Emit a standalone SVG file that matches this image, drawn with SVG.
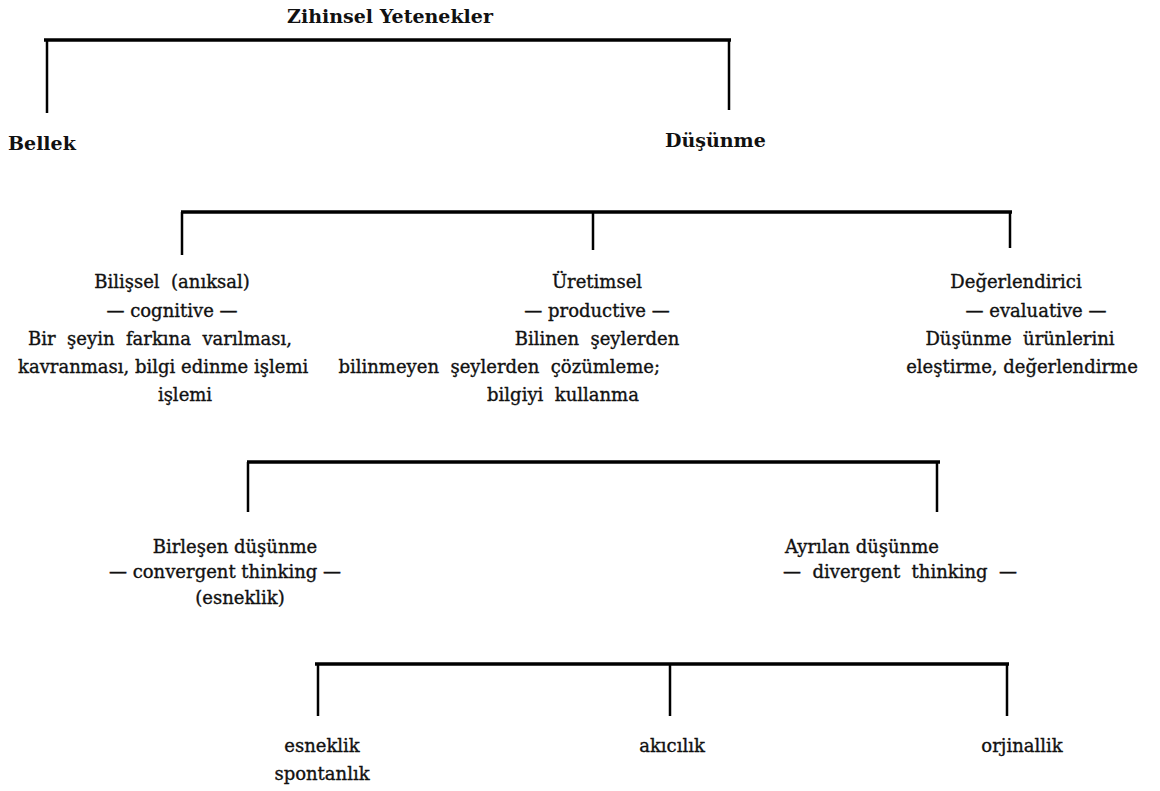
<svg xmlns="http://www.w3.org/2000/svg" width="1160" height="791" viewBox="0 0 1160 791">
<style>
.t{font-family:"DejaVu Serif","Liberation Serif",serif;font-size:18px;fill:#111;stroke:#111;stroke-width:0.35}
.b{font-weight:bold;font-size:19px;stroke-width:0}
.m{text-anchor:middle}
.e{text-anchor:end}
.h{stroke:#000;stroke-width:3.5;fill:none}
.v{stroke:#000;stroke-width:2.5;fill:none}
</style>
<rect width="1160" height="791" fill="#fff"/>
<g id="connectors">
<path class="h" d="M44,40 H731"/>
<path class="v" d="M47,40 V113 M729,40 V110"/>
<path class="h" d="M181,212 H1012"/>
<path class="v" d="M182,212 V255 M593,212 V250 M1010,212 V248"/>
<path class="h" d="M247,462 H940"/>
<path class="v" d="M248,462 V512 M937,462 V512"/>
<path class="h" d="M315,664 H1009"/>
<path class="v" d="M318,664 V716 M670,664 V716 M1007,664 V716"/>
</g>
<g id="root"><text class="t b m" x="390" y="23">Zihinsel Yetenekler</text></g>
<g id="bellek"><text class="t b" x="8" y="150">Bellek</text></g>
<g id="dusunme"><text class="t b" x="665" y="147">Düşünme</text></g>
<g id="bilissel">
<text class="t m" x="172" y="288" xml:space="preserve">Bilişsel  (anıksal)</text>
<text class="t m" x="172" y="317">— cognitive —</text>
<text class="t m" x="160" y="345" xml:space="preserve">Bir  şeyin  farkına  varılması,</text>
<text class="t" x="18" y="373">kavranması, bilgi edinme işlemi</text>
<text class="t m" x="185" y="401">işlemi</text>
</g>
<g id="uretimsel">
<text class="t m" x="597" y="288">Üretimsel</text>
<text class="t m" x="597" y="317">— productive —</text>
<text class="t m" x="597" y="345" xml:space="preserve">Bilinen  şeylerden</text>
<text class="t e" x="660" y="373" xml:space="preserve">bilinmeyen  şeylerden  çözümleme;</text>
<text class="t m" x="563" y="401" xml:space="preserve">bilgiyi  kullanma</text>
</g>
<g id="degerlendirici">
<text class="t m" x="1016" y="288">Değerlendirici</text>
<text class="t m" x="1036" y="317">— evaluative —</text>
<text class="t m" x="1020" y="345" xml:space="preserve">Düşünme  ürünlerini</text>
<text class="t m" x="1022" y="373">eleştirme, değerlendirme</text>
</g>
<g id="birlesen">
<text class="t m" x="235" y="553">Birleşen düşünme</text>
<text class="t m" x="225" y="578">— convergent thinking —</text>
<text class="t m" x="240" y="604">(esneklik)</text>
</g>
<g id="ayrilan">
<text class="t m" x="862" y="553">Ayrılan düşünme</text>
<text class="t m" x="900" y="578" xml:space="preserve">—  divergent  thinking  —</text>
</g>
<g id="esneklik">
<text class="t m" x="322" y="752">esneklik</text>
<text class="t m" x="322" y="780">spontanlık</text>
</g>
<g id="akicilik"><text class="t m" x="672" y="752">akıcılık</text></g>
<g id="orjinallik"><text class="t m" x="1022" y="752">orjinallik</text></g>
</svg>
